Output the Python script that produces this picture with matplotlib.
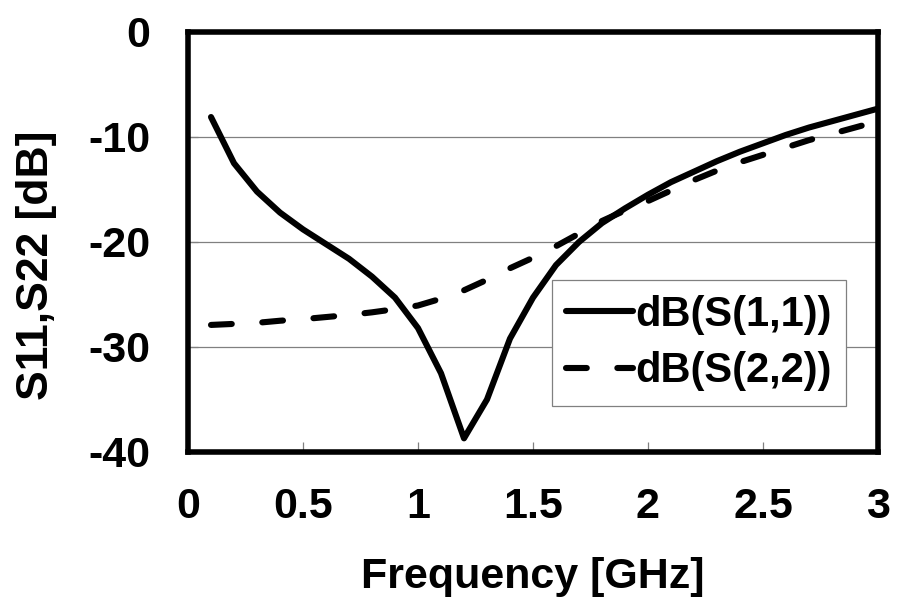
import matplotlib
matplotlib.use('Agg')
import matplotlib.pyplot as plt

# Return loss of the two ports, 0.1 GHz sweep
freq = [0.1, 0.2, 0.3, 0.4, 0.5, 0.6, 0.7, 0.8, 0.9, 1.0,
        1.1, 1.2, 1.3, 1.4, 1.5, 1.6, 1.7, 1.8, 1.9, 2.0,
        2.1, 2.2, 2.3, 2.4, 2.5, 2.6, 2.7, 2.8, 2.9, 3.0]

s11 = [-8.1, -12.5, -15.2, -17.2, -18.8, -20.2, -21.6, -23.3, -25.3, -28.2,
       -32.5, -38.7, -35.0, -29.2, -25.3, -22.2, -20.0, -18.2, -16.8, -15.5,
       -14.3, -13.3, -12.3, -11.4, -10.6, -9.8, -9.1, -8.5, -7.9, -7.3]

s22 = [-27.9, -27.8, -27.7, -27.5, -27.35, -27.15, -26.95, -26.7, -26.4, -26.05,
       -25.4, -24.6, -23.6, -22.5, -21.5, -20.4, -19.2, -18.0, -17.0, -16.1,
       -15.1, -14.1, -13.2, -12.4, -11.7, -11.0, -10.3, -9.7, -9.1, -8.5]

xticks = [0, 0.5, 1, 1.5, 2, 2.5, 3]
xticklabels = ['0', '0.5', '1', '1.5', '2', '2.5', '3']
yticks = [-40, -30, -20, -10, 0]

plt.rcParams['font.family'] = ['Liberation Sans', 'DejaVu Sans']
plt.rcParams['font.weight'] = 'bold'
plt.rcParams['axes.unicode_minus'] = False

fig = plt.figure(figsize=(8.97, 6.0), dpi=100)
ax = fig.add_axes([0.2096, 0.2467, 0.7692, 0.70])

ax.plot(freq, s11, color='black', lw=4.4, solid_capstyle='round',
        solid_joinstyle='round', label='dB(S(1,1))')
ax.plot(freq, s22, color='black', lw=4.4, dashes=(3.4, 5.0),
        dash_capstyle='round', dash_joinstyle='round', label='dB(S(2,2))')

ax.set_xlim(0, 3)
ax.set_ylim(-40, 0)
ax.set_xticks(xticks)
ax.set_xticklabels(xticklabels)
ax.set_yticks(yticks)
ax.grid(axis='y', color='#808080', lw=0.9)
ax.set_axisbelow(True)
ax.tick_params(direction='in', length=7, width=0.9, color='#808080',
               labelsize=31, top=False, right=False)
ax.tick_params(axis='x', pad=25)
ax.tick_params(axis='y', pad=27)
for lbl in ax.get_xticklabels() + ax.get_yticklabels():
    lbl.set_fontweight('bold')

for sp in ax.spines.values():
    sp.set_linewidth(4)
    sp.set_color('black')

ax.set_xlabel('Frequency [GHz]', fontsize=31, fontweight='bold', labelpad=22)
ax.set_ylabel('S11,S22 [dB]', fontsize=32, fontweight='bold')
ax.yaxis.set_label_coords(-0.19, 0.445)

leg = ax.legend(loc='upper right', bbox_to_anchor=(0.954, 0.4095),
                borderaxespad=0, fontsize=30, handlelength=1.6,
                handletextpad=0.05, borderpad=0.35, labelspacing=0.4,
                fancybox=False, framealpha=1)
leg.get_frame().set_edgecolor('#808080')
leg.get_frame().set_linewidth(0.9)
for t in leg.get_texts():
    t.set_fontweight('bold')

fig.savefig('out.png', dpi=100)
